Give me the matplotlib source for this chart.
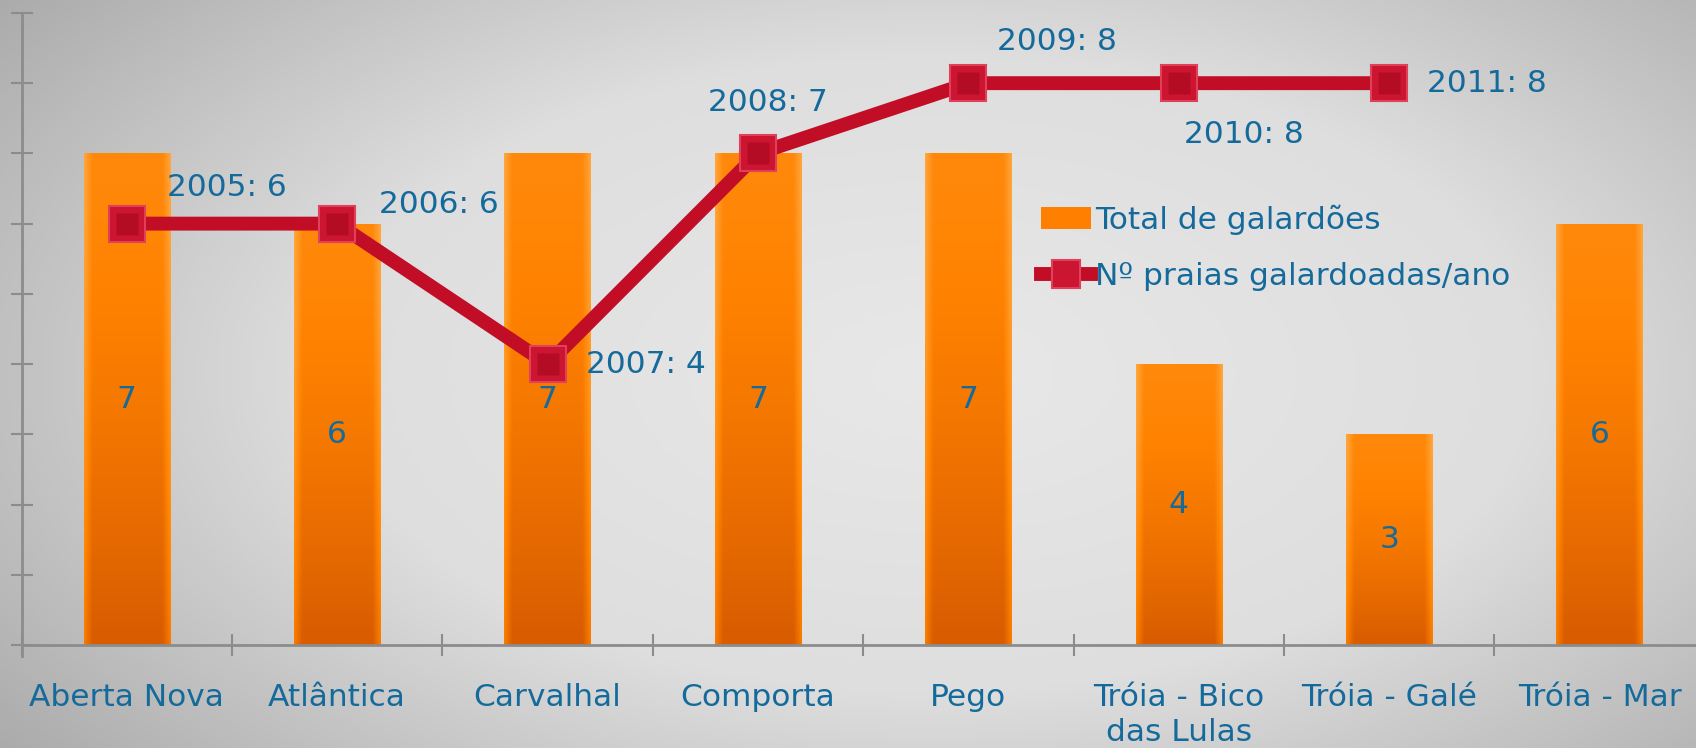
import numpy as np
import matplotlib
matplotlib.use('Agg')
import matplotlib.pyplot as plt
from matplotlib.colors import LinearSegmentedColormap

# data
praias = ['Aberta Nova', 'Atlântica', 'Carvalhal', 'Comporta', 'Pego',
          'Tróia - Bico\ndas Lulas', 'Tróia - Galé', 'Tróia - Mar']
total_galardoes = [7, 6, 7, 7, 7, 4, 3, 6]
anos = ['2005', '2006', '2007', '2008', '2009', '2010', '2011']
praias_por_ano = [6, 6, 4, 7, 8, 8, 8]

# label offsets (points) for the yearly series
offsets = [(72, 26), (73, 14), (71, 0), (7, 37), (64, 30), (47, -37), (70, 0)]

txt_color = '#156a9c'
red = '#c10d25'
fs = 22.5

fig = plt.figure(figsize=(16.96, 7.48), dpi=100)

# background gradient
bg = fig.add_axes([0, 0, 1, 1])
yy, xx = np.mgrid[0:1:300j, 0:1:600j]
d = np.sqrt(((xx - 0.55) / 0.75) ** 2 + ((yy - 0.5) / 0.9) ** 2)
bg_cmap = LinearSegmentedColormap.from_list('bg', ['#e8e8e8', '#dedede', '#a8a8a8'])
bg.imshow(d, cmap=bg_cmap, aspect='auto', extent=[0, 1, 0, 1], vmin=0, vmax=0.95)
bg.axis('off')

ax = fig.add_axes([0.0127, 0.1377, 0.9925, 0.845])
ax.patch.set_alpha(0)
x = np.arange(len(praias))

bars = ax.bar(x, total_galardoes, width=0.41, color='#ff8000', zorder=2)

# gradient fill for each bar
vert = np.linspace(0, 1, 100)[:, None]
horiz = np.linspace(0, 1, 60)[None, :]
edge = np.clip(1 - np.minimum(horiz, 1 - horiz) / 0.09, 0, 1)
grad = vert ** 1.5 * 0.85 - edge * 0.6
bar_cmap = LinearSegmentedColormap.from_list('bar', ['#ffa53a', '#ff8200', '#d85c00'])
for b in bars:
    im = ax.imshow(grad, cmap=bar_cmap, vmin=-0.6, vmax=0.85, aspect='auto',
                   extent=[b.get_x(), b.get_x() + b.get_width(), 0, b.get_height()],
                   zorder=2.5)
    im.set_clip_path(b)

for xi, v in zip(x, total_galardoes):
    ax.text(xi, v / 2, str(v), ha='center', va='center', color=txt_color,
            fontsize=fs, zorder=5)

xl = x[:len(praias_por_ano)]
line, = ax.plot(xl, praias_por_ano, color=red, lw=10, marker='s', markersize=26,
                markerfacecolor='#cc1530', markeredgecolor='#e0405a',
                markeredgewidth=1.5, zorder=4)
# inner darker square for a bevelled look
ax.plot(xl, praias_por_ano, ls='none', marker='s', markersize=16,
        markerfacecolor='#b50c26', markeredgecolor='none', zorder=4.5)

for xi, v, a, off in zip(xl, praias_por_ano, anos, offsets):
    ax.annotate(f'{a}: {v}', (xi, v), xytext=off, textcoords='offset points',
                ha='center', va='center', color=txt_color, fontsize=fs, zorder=6)

ax.set_xlim(-0.5, len(praias) - 0.5)
ax.set_ylim(0, 9)
ax.set_yticks(range(0, 10))
ax.set_yticklabels([])
ax.set_xticks(np.arange(-0.5, len(praias), 1.0))
ax.set_xticklabels([])
ax.set_xticks(x, minor=True)
ax.set_xticklabels(praias, minor=True, color=txt_color, fontsize=fs,
                   linespacing=1.3)
ax.tick_params(axis='x', which='minor', length=0, pad=27)
ax.tick_params(axis='both', which='major', direction='inout', length=16,
               width=1.5, color='#8c8c8c')
for s in ['top', 'right']:
    ax.spines[s].set_visible(False)
for s in ['left', 'bottom']:
    ax.spines[s].set_color('#8c8c8c')
    ax.spines[s].set_linewidth(2)
ax.spines['left'].set_bounds(-0.15, 9)

leg = ax.legend([bars, line], ['Total de galardões', 'Nº praias galardoadas/ano'],
                loc='upper left', bbox_to_anchor=(0.597, 0.764),
                bbox_transform=fig.transFigure, frameon=False, fontsize=fs,
                handlelength=1.6, handletextpad=0.15, labelspacing=0.85,
                numpoints=1, markerscale=0.75)
for t in leg.get_texts():
    t.set_color(txt_color)

fig.savefig('out.png', dpi=100)
